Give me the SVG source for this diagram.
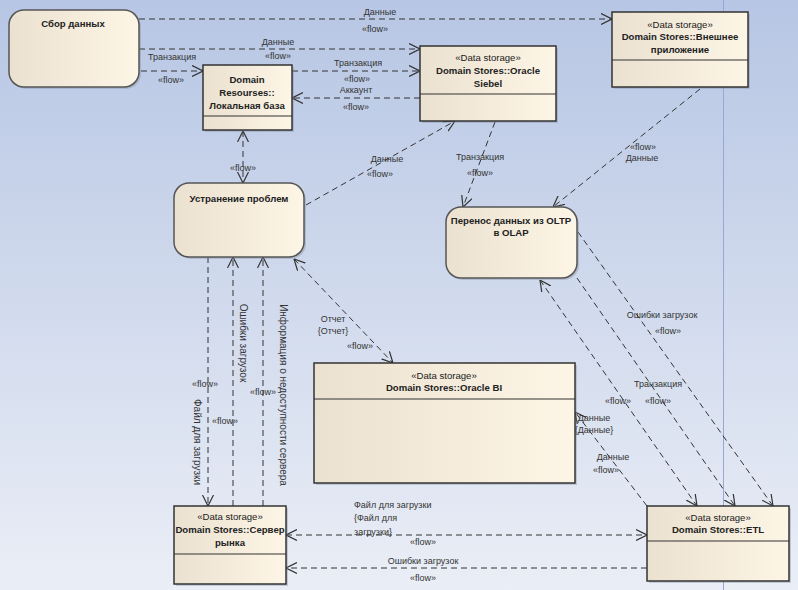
<svg xmlns="http://www.w3.org/2000/svg" width="798" height="590" viewBox="0 0 798 590">
<defs>
<linearGradient id="bg" x1="0" y1="0" x2="0" y2="1">
<stop offset="0" stop-color="#b7c6e4"/>
<stop offset="1" stop-color="#eaeef6"/>
</linearGradient>
<linearGradient id="nf" x1="0" y1="0" x2="1" y2="0">
<stop offset="0" stop-color="#ebe1d1"/>
<stop offset="1" stop-color="#fdf5e5"/>
</linearGradient>
<marker id="ar" viewBox="0 0 11 12" refX="11" refY="6" markerWidth="11" markerHeight="12" markerUnits="userSpaceOnUse" orient="auto-start-reverse">
<path d="M0,0.5 L11,6 L0,11.5" fill="none" stroke="#333" stroke-width="1.2"/>
</marker>
<style>
.box{fill:url(#nf);stroke:#333;stroke-width:1.5}
.rnd{fill:url(#nf);stroke:#555;stroke-width:1.5}
.sh{fill:#7f8699;opacity:0.35}
.div{stroke:#333;stroke-width:1.2}
.t{font-family:"Liberation Sans",Arial,sans-serif;font-size:9.6px;fill:#222;text-anchor:middle}
.b{font-weight:bold}
.l{font-family:"Liberation Sans",Arial,sans-serif;font-size:9px;fill:#333;text-anchor:middle}
.r{font-size:10px}
.c{fill:none;stroke:#333;stroke-width:1;stroke-dasharray:6,4}
</style>
</defs>
<rect x="0" y="0" width="798" height="590" fill="url(#bg)"/>
<line x1="723.5" y1="0" x2="723.5" y2="590" stroke="#9aa6d6" stroke-width="1"/>

<g id="connectors">
<path class="c" d="M139,19 H612" marker-end="url(#ar)"/>
<path class="c" d="M139,49 H420" marker-end="url(#ar)"/>
<path class="c" d="M141,71 H203" marker-end="url(#ar)"/>
<path class="c" d="M292,71 H420" marker-end="url(#ar)"/>
<path class="c" d="M420,98 H292" marker-end="url(#ar)"/>
<path class="c" d="M243,131 V183" marker-start="url(#ar)" marker-end="url(#ar)"/>
<path class="c" d="M306,205 L455,121" marker-end="url(#ar)"/>
<path class="c" d="M495,122 L463,207" marker-end="url(#ar)"/>
<path class="c" d="M700,89 L553,207" marker-end="url(#ar)"/>
<path class="c" d="M294,259 L393,363" marker-start="url(#ar)" marker-end="url(#ar)"/>
<path class="c" d="M208,257 V506" marker-end="url(#ar)"/>
<path class="c" d="M233,506 V257" marker-end="url(#ar)"/>
<path class="c" d="M263,506 V257" marker-end="url(#ar)"/>
<path class="c" d="M578,232 L773,506" marker-end="url(#ar)"/>
<path class="c" d="M577,278 L735,506" marker-end="url(#ar)"/>
<path class="c" d="M540,280 L697,506" marker-start="url(#ar)" marker-end="url(#ar)"/>
<path class="c" d="M647,506 L575,412" marker-end="url(#ar)"/>
<path class="c" d="M286,535 H647" marker-start="url(#ar)" marker-end="url(#ar)"/>
<path class="c" d="M647,568 H286" marker-end="url(#ar)"/>

<text class="l" x="380" y="15">Данные</text>
<text class="l" x="375" y="32">«flow»</text>
<text class="l" x="278" y="45">Данные</text>
<text class="l" x="278" y="59">«flow»</text>
<text class="l" x="172" y="60">Транзакция</text>
<text class="l" x="171" y="83">«flow»</text>
<text class="l" x="358" y="66">Транзакция</text>
<text class="l" x="357" y="82">«flow»</text>
<text class="l" x="356" y="93">Аккаунт</text>
<text class="l" x="356" y="110">«flow»</text>
<text class="l" x="243" y="171">«flow»</text>
<text class="l" x="387" y="162">Данные</text>
<text class="l" x="380" y="177">«flow»</text>
<text class="l" x="480" y="160">Транзакция</text>
<text class="l" x="480" y="176">«flow»</text>
<text class="l" x="643" y="150">«flow»</text>
<text class="l" x="642" y="161">Данные</text>
<text class="l" x="333" y="322">Отчет</text>
<text class="l" x="333" y="334">{Отчет}</text>
<text class="l" x="360" y="349">«flow»</text>
<text class="l" x="205" y="387">«flow»</text>
<text class="l" x="225" y="424">«flow»</text>
<text class="l" x="263" y="395">«flow»</text>
<text class="l r" transform="translate(194,442) rotate(90)">Файл для загрузки</text>
<text class="l r" transform="translate(240,343) rotate(90)">Ошибки загрузок</text>
<text class="l r" transform="translate(280,395) rotate(90)">Информация о недоступности сервера</text>
<text class="l" x="662" y="318">Ошибки загрузок</text>
<text class="l" x="668" y="334">«flow»</text>
<text class="l" x="658" y="387">Транзакция</text>
<text class="l" x="658" y="404">«flow»</text>
<text class="l" x="618" y="404">«flow»</text>
<text class="l" x="594" y="421">Данные</text>
<text class="l" x="594" y="433">{Данные}</text>
<text class="l" x="613" y="460">Данные</text>
<text class="l" x="606" y="473">«flow»</text>
<text class="l" x="354" y="508" style="text-anchor:start">Файл для загрузки</text>
<text class="l" x="354" y="521" style="text-anchor:start">{Файл для</text>
<text class="l" x="354" y="535" style="text-anchor:start">загрузки}</text>
<text class="l" x="423" y="545">«flow»</text>
<text class="l" x="423" y="564">Ошибки загрузок</text>
<text class="l" x="423" y="581">«flow»</text>
</g>

<g id="sbor">
<rect class="sh" x="11" y="12" width="130" height="77" rx="15"/>
<rect class="rnd" x="9" y="10" width="130" height="77" rx="15"/>
<text class="t b" x="73" y="27">Сбор данных</text>
</g>

<g id="local">
<rect class="sh" x="205" y="67" width="89" height="65"/>
<rect class="box" x="203" y="65" width="89" height="65"/>
<line class="div" x1="203" y1="116" x2="292" y2="116"/>
<text class="t b" x="247" y="83">Domain</text>
<text class="t b" x="247" y="96">Resourses::</text>
<text class="t b" x="247" y="109">Локальная база</text>
</g>

<g id="siebel">
<rect class="sh" x="422" y="48" width="136" height="75"/>
<rect class="box" x="420" y="46" width="136" height="75"/>
<line class="div" x1="420" y1="94" x2="556" y2="94"/>
<text class="t" x="488" y="61">«Data storage»</text>
<text class="t b" x="488" y="74">Domain Stores::Oracle</text>
<text class="t b" x="488" y="87">Siebel</text>
</g>

<g id="vneshnee">
<rect class="sh" x="614" y="14" width="136" height="75"/>
<rect class="box" x="612" y="12" width="136" height="75"/>
<line class="div" x1="612" y1="60" x2="748" y2="60"/>
<text class="t" x="680" y="28">«Data storage»</text>
<text class="t b" x="680" y="40">Domain Stores::Внешнее</text>
<text class="t b" x="680" y="53">приложение</text>
</g>

<g id="ustranenie">
<rect class="sh" x="176" y="185" width="130" height="74" rx="15"/>
<rect class="rnd" x="174" y="183" width="130" height="74" rx="15"/>
<text class="t b" x="239" y="202">Устранение проблем</text>
</g>

<g id="perenos">
<rect class="sh" x="448" y="209" width="131" height="71" rx="15"/>
<rect class="rnd" x="446" y="207" width="131" height="71" rx="15"/>
<text class="t b" x="511" y="224">Перенос данных из OLTP</text>
<text class="t b" x="511" y="236">в OLAP</text>
</g>

<g id="oraclebi">
<rect class="sh" x="316" y="365" width="261" height="120"/>
<rect class="box" x="314" y="363" width="261" height="120"/>
<line class="div" x1="314" y1="399" x2="575" y2="399"/>
<text class="t" x="444" y="379">«Data storage»</text>
<text class="t b" x="444" y="391">Domain Stores::Oracle BI</text>
</g>

<g id="server">
<rect class="sh" x="176" y="508" width="112" height="78"/>
<rect class="box" x="174" y="506" width="112" height="78"/>
<line class="div" x1="174" y1="554" x2="286" y2="554"/>
<text class="t" x="230" y="520">«Data storage»</text>
<text class="t b" x="230" y="533">Domain Stores::Сервер</text>
<text class="t b" x="230" y="546">рынка</text>
</g>

<g id="etl">
<rect class="sh" x="649" y="508" width="142" height="75"/>
<rect class="box" x="647" y="506" width="142" height="75"/>
<line class="div" x1="647" y1="541" x2="789" y2="541"/>
<text class="t" x="718" y="521">«Data storage»</text>
<text class="t b" x="718" y="533">Domain Stores::ETL</text>
</g>
</svg>
